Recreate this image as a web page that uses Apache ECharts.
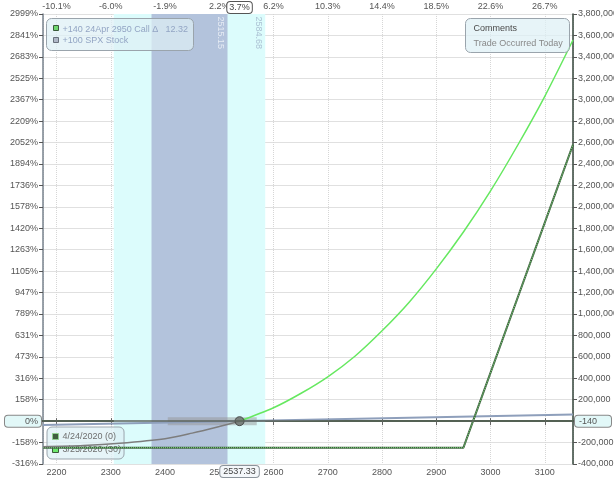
<!DOCTYPE html>
<html>
<head>
<meta charset="utf-8">
<script src="https://cdn.jsdelivr.net/npm/echarts@6/dist/echarts.min.js"></script>
<style>
  html, body { margin: 0; padding: 0; background: #fff; }
  #chart { width: 614px; height: 480px; }
</style>
</head>
<body>
<div id="chart"></div>
<script>
// 价格区间 (标的) / P&L 区间
const priceMin = 2175, priceMax = 3152;
const plMin = -400000, plMax = 3800000, plStep = 200000;

// 顶部百分比刻度
const topTickPrices = [2200, 2300, 2400, 2500, 2600, 2700, 2800, 2900, 3000, 3100];
const topTickLabels = ['-10.1%', '-6.0%', '-1.9%', '2.2%', '6.2%', '10.3%', '14.4%', '18.5%', '22.6%', '26.7%'];

// 左侧百分比刻度 (从下到上)
const pctLabels = ['-316%', '-158%', '0%', '158%', '316%', '473%', '631%', '789%', '947%', '1105%', '1263%',
  '1420%', '1578%', '1736%', '1894%', '2052%', '2209%', '2367%', '2525%', '2683%', '2841%', '2999%'];

// 到期线 4/24/2020 (0)
const expiryLine = [[2175, -248000], [2950, -248000], [3152, 2580000]];
// 当前线 3/25/2020 (30)
const t0Line = [[2175, -239000], [2250, -228000], [2316, -207000], [2400, -164000], [2450, -112000],
  [2500, -50000], [2537.33, -140], [2600, 125000], [2650, 258000], [2700, 414000], [2750, 606000],
  [2800, 843000], [2850, 1110000], [2900, 1421000], [2950, 1765000], [3000, 2149000],
  [3050, 2575000], [3100, 3032000], [3152, 3557000]];
// +100 SPX Stock
const stockLine = [[2175, -35000], [3152, 63000]];

// 当前价 / 标准差区间
const spot = 2537.33, spotPct = '3.7%', zeroPL = -140;
const band1 = [2375.05, 2515.15];
const band2 = [2305.52, 2584.68];
const spotBar = [[2405, -140], [2569, -140]];

const FONT = '"Liberation Sans", Arial, sans-serif';
const chart = echarts.init(document.getElementById('chart'));

// 亏损段灰色, 盈利段绿色
const t0Loss = t0Line.filter(p => p[0] <= spot);
const t0Gain = t0Line.filter(p => p[0] >= spot);

function box(x, y, w, h, children) {
  return {
    type: 'group', left: x, top: y, z: 100,
    children: [{ type: 'rect', z: 100, shape: { x: 0, y: 0, width: w, height: h, r: 5 },
      style: { fill: 'rgba(222,240,245,0.72)', stroke: '#9aa4ac', lineWidth: 1 } }].concat(children)
  };
}
function txt(x, y, text, fill) {
  return { type: 'text', z: 101, x: x, y: y,
    style: { text: text, fill: fill, font: '9px ' + FONT, textVerticalAlign: 'middle' } };
}

chart.setOption({
  animation: false,
  grid: { left: 43, right: 41, top: 14, bottom: 16, outerBoundsMode: 'none' },
  xAxis: [
    {
      type: 'value', min: priceMin, max: priceMax, splitNumber: 10, position: 'bottom',
      axisLine: { lineStyle: { color: '#4c5666', width: 1.5, type: 'dotted' } },
      axisTick: { length: 4, lineStyle: { color: '#666' } },
      axisLabel: { showMinLabel: false, showMaxLabel: false, color: '#555', fontSize: 9, fontFamily: FONT, margin: 4,
        formatter: v => String(v) },
      splitLine: { show: true, lineStyle: { color: '#d6d6d6', type: 'dotted' } },
      axisPointer: {
        show: true, type: 'line', value: spot, status: 'show', triggerTooltip: false,
        lineStyle: { opacity: 0 },
        label: { show: true, formatter: () => spot.toFixed(2), backgroundColor: '#f4f7fa', borderColor: '#8c949c',
          borderWidth: 1, borderRadius: 3, color: '#444', fontSize: 9, fontFamily: FONT, padding: [1, 3], margin: 2 }
      }
    },
    {
      type: 'value', min: priceMin, max: priceMax, splitNumber: 10, position: 'top',
      axisLine: { lineStyle: { color: '#3e5a3e', width: 2 } },
      axisTick: { length: 3, lineStyle: { color: '#666' } },
      axisLabel: {
        showMinLabel: false, showMaxLabel: false, color: '#555', fontSize: 9, fontFamily: FONT, margin: 3,
        formatter: v => { const i = topTickPrices.indexOf(v); return i >= 0 ? topTickLabels[i] : ''; }
      },
      splitLine: { show: false },
      axisPointer: {
        show: true, type: 'line', value: spot, status: 'show', triggerTooltip: false,
        lineStyle: { opacity: 0 },
        label: { show: true, formatter: () => spotPct, backgroundColor: '#fff', borderColor: '#555',
          borderWidth: 1, color: '#444', fontSize: 9, fontFamily: FONT, padding: [1, 2], margin: 1 }
      }
    }
  ],
  yAxis: [
    {
      type: 'value', min: plMin, max: plMax, interval: plStep, position: 'right',
      axisLine: { show: true, lineStyle: { color: '#33443a', width: 1.5 } },
      axisTick: { show: true, length: 4, lineStyle: { color: '#555' } },
      axisLabel: { color: '#555', fontSize: 9, fontFamily: FONT, margin: 5,
        formatter: v => v.toLocaleString('en-US') },
      splitLine: { show: true, lineStyle: { color: '#e0e0e0' } },
      axisPointer: {
        show: true, type: 'line', value: zeroPL, status: 'show', triggerTooltip: false,
        lineStyle: { color: '#5c645c', width: 1.5, type: 'solid' },
        label: { show: true, formatter: () => String(zeroPL), backgroundColor: '#e2f8f8', borderColor: '#888',
          borderWidth: 1, color: '#555', fontSize: 9, fontFamily: FONT, padding: [1, 14, 1, 4], margin: 2 }
      }
    },
    {
      type: 'value', min: plMin, max: plMax, interval: plStep, position: 'left',
      axisLine: { show: true, lineStyle: { color: '#78838e', width: 1.5 } },
      axisTick: { show: true, length: 4, lineStyle: { color: '#555' } },
      axisLabel: { color: '#555', fontSize: 9, fontFamily: FONT, margin: 5,
        formatter: v => pctLabels[Math.round((v - plMin) / plStep)] },
      splitLine: { show: false },
      axisPointer: {
        show: true, type: 'line', value: zeroPL, status: 'show', triggerTooltip: false,
        lineStyle: { opacity: 0 },
        label: { show: true, formatter: () => '0%', backgroundColor: '#e2f8f8', borderColor: '#888',
          borderWidth: 1, color: '#555', fontSize: 9, fontFamily: FONT, padding: [1, 3, 1, 20], margin: 2 }
      }
    }
  ],
  legend: {
    left: 47, top: 427, orient: 'vertical', itemWidth: 6, itemHeight: 6, itemGap: 4,
    padding: [5, 3, 5, 5], backgroundColor: 'rgba(222,240,245,0.75)', borderColor: '#9aa4ac',
    borderWidth: 1, borderRadius: 5,
    textStyle: { color: '#6f6f6f', fontSize: 9, fontFamily: FONT, padding: [0, 0, 0, -1] },
    data: [
      { name: '4/24/2020 (0)', icon: 'rect', itemStyle: { color: '#3f5f3f', borderColor: '#8fd08f', borderWidth: 1 } },
      { name: '3/25/2020 (30)', icon: 'rect', itemStyle: { color: '#6de86d', borderColor: '#3a5a3a', borderWidth: 1 } }
    ]
  },
  series: [
    {
      name: '+100 SPX Stock', type: 'line', data: stockLine, symbol: 'none', z: 3,
      lineStyle: { color: '#8e9fbb', width: 2 },
      markArea: {
        silent: true,
        data: [
          [{ xAxis: band2[0], itemStyle: { color: '#dcfcfc' } }, { xAxis: band2[1] }],
          [{ xAxis: band1[0], itemStyle: { color: '#b3c3dc' } }, { xAxis: band1[1] }]
        ]
      }
    },
    {
      name: 'spotBar', type: 'line', data: spotBar, symbol: 'none', z: 2,
      lineStyle: { color: 'rgba(150,150,150,0.5)', width: 8 }
    },
    {
      name: '4/24/2020 (0)', type: 'line', data: expiryLine, symbol: 'none', z: 4,
      itemStyle: { color: '#3f5f3f' }, lineStyle: { color: '#3f5f3f', width: 2 }
    },
    {
      name: 'expiryDots', type: 'line', data: expiryLine, symbol: 'none', z: 5,
      lineStyle: { color: '#7ee07e', width: 1, type: 'dotted' }
    },
    {
      name: 't0Loss', type: 'line', data: t0Loss, symbol: 'none', smooth: 0.3, z: 6,
      lineStyle: { color: '#7d7d7d', width: 1.5 }
    },
    {
      name: '3/25/2020 (30)', type: 'line', data: t0Gain, symbol: 'none', smooth: 0.3, z: 6,
      itemStyle: { color: '#6de86d' }, lineStyle: { color: '#66e860', width: 1.5 }
    },
    {
      name: 'spot', type: 'scatter', data: [[spot, zeroPL]], symbol: 'circle', symbolSize: 9, z: 7,
      itemStyle: { color: '#6b716b', borderColor: '#333', borderWidth: 1 }
    },
    {
      name: 'bandLabels', type: 'scatter', symbolSize: 1, z: 8, silent: true,
      itemStyle: { color: 'rgba(0,0,0,0)' },
      data: [
        { value: [band1[1], plMax], label: { color: '#f4f6fa' } },
        { value: [band2[1], plMax], label: { color: '#9fb2c8' } }
      ],
      label: {
        show: true, rotate: -90, position: [-2, 3], align: 'left', verticalAlign: 'top',
        fontSize: 9, fontFamily: FONT, formatter: p => p.value[0].toFixed(2)
      }
    }
  ],
  graphic: [
    box(46, 18, 147, 32, [
      { type: 'rect', z: 101, shape: { x: 7, y: 7, width: 5, height: 5 }, style: { fill: '#6fd86f', stroke: '#3b5b3b', lineWidth: 1 } },
      txt(16, 11, '+140 24Apr 2950 Call \u0394', '#93a5c4'),
      txt(119, 11, '12.32', '#93a5c4'),
      { type: 'rect', z: 101, shape: { x: 7, y: 19, width: 5, height: 5 }, style: { fill: '#b0b8c8', stroke: '#68707c', lineWidth: 1 } },
      txt(16, 22, '+100 SPX Stock', '#93a5c4')
    ]),
    box(465, 18, 104, 34, [
      txt(8, 10, 'Comments', '#4a4a4a'),
      txt(8, 25, 'Trade Occurred Today', '#888')
    ])
  ]
});
</script>
</body>
</html>
